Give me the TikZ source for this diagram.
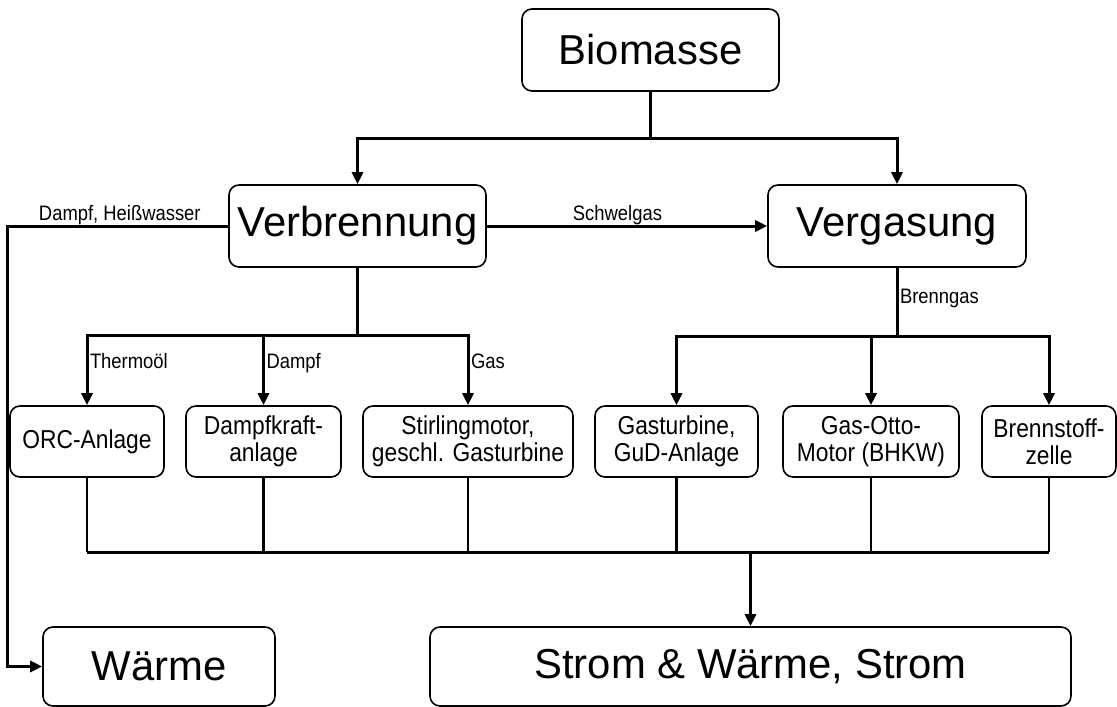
\documentclass[tikz,border=0pt]{standalone}
\usepackage{fontspec}
\setmainfont{Liberation Sans}
\newfontfamily\narrowsans[FakeStretch=0.88]{Liberation Sans}
\usetikzlibrary{arrows.meta}
\tikzset{
  box/.style={draw,rounded corners=10bp,line width=1.6bp,inner sep=0pt,align=center,
    font=\narrowsans\fontsize{26}{27}\selectfont},
  bigbox/.style={box,font=\fontsize{42}{46}\selectfont},
  lbl/.style={font=\narrowsans\fontsize{21}{23}\selectfont,inner sep=1.5bp},
  lblup/.style={lbl,anchor=base,yshift=5bp},
  lblside/.style={lbl,anchor=mid west},
  trunk/.style={line width=3bp},
  flow/.style={trunk,-{Triangle[length=12bp,width=11bp]}},
  drop/.style={line width=2.2bp},
}
\begin{document}
\begin{tikzpicture}[x=1bp,y=-1bp]
\useasboundingbox (0,0) rectangle (1117,707);
% ---------- top ----------
\node[bigbox,minimum width=257bp,minimum height=82bp] (bio) at (650.5,50) {Biomasse};
\node[bigbox,minimum width=257bp,minimum height=82bp] (verb) at (357.5,226) {Verbrennung};
\node[bigbox,minimum width=258bp,minimum height=82bp] (verg) at (897,226) {Vergasung};
% ---------- plants ----------
\node[box,minimum width=154bp,minimum height=71bp] (orc) at (87,441.5) {ORC-Anlage};
\node[box,minimum width=155bp,minimum height=71bp] (dkw) at (263.5,441.5) {Dampfkraft-\\anlage};
\node[box,minimum width=210bp,minimum height=71bp] (stir) at (468,441.5) {Stirlingmotor,\\geschl. Gasturbine};
\node[box,minimum width=163bp,minimum height=71bp] (gtu) at (676.5,441.5) {Gasturbine,\\GuD-Anlage};
\node[box,minimum width=176bp,minimum height=71bp] (otto) at (871,441.5) {Gas-Otto-\\Motor (BHKW)};
\node[box,minimum width=134bp,minimum height=71bp] (bsz) at (1049,441.5) {Brennstoff-\\zelle};
% ---------- products ----------
\node[bigbox,minimum width=232bp,minimum height=79bp] (waerme) at (159,666.5) {Wärme};
\node[bigbox,minimum width=641bp,minimum height=79bp] (strom) at (750.5,666.5) {Strom \& Wärme, Strom};
% ---------- connectors ----------
\draw[trunk] (bio.south) -- ++(0,47) coordinate (bsplit);
\draw[flow] (bsplit) -| (verb.north);
\draw[flow] (bsplit) -| (verg.north);
\draw[flow] (verb.east) -- node[lblup,pos=0.466] (lschwel) {Schwelgas} (verg.west);
\coordinate (wleft) at (7,666.5);
\draw[flow] (verb.west) -| node[lblup,pos=0.245] (ldampf) {Dampf, Heißwasser} (wleft) -- (waerme.west);
\draw[trunk] (verb.south) -- ++(0,68) coordinate (vsplit);
\foreach \n/\t in {orc/Thermoöl,dkw/Dampf,stir/Gas}
  \draw[flow] (vsplit) -| node[lblside,pos=0.72] (l\n) {\t} (\n.north);
\draw[trunk] (verg.south) -- node[lblside,pos=0.48] (lbrenn) {Brenngas} ++(0,69) coordinate (gsplit);
\foreach \n in {gtu,otto,bsz}
  \draw[flow] (gsplit) -| (\n.north);
% ---------- collector ----------
\coordinate (busy) at (0,552);
\foreach \n in {orc,dkw,stir,gtu,otto,bsz}
  \draw[drop] (\n.south) -- (\n.south |- busy);
\draw[trunk] (orc.south |- busy) -- (bsz.south |- busy);
\draw[flow] (strom.north |- busy) -- (strom.north);
\end{tikzpicture}
\end{document}
